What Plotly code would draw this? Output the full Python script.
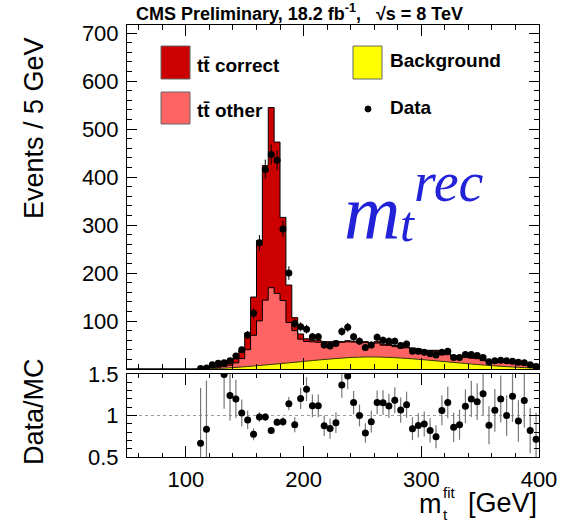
import numpy as np
import plotly.graph_objects as go

# ---------------------------------------------------------------- data
BIN_WIDTH = 5.0
X_MIN, X_MAX = 50.0, 400.0
FIRST_FILLED = 110.0          # lower edge of the first populated bin

# events per 5 GeV, bins 110-115 ... 395-400
data_counts = [1, 2, 9, 12, 13, 17, 27, 40, 71, 116,
               263, 416, 447, 435, 292, 200, 95, 88, 83, 67,
               67, 50, 48, 53, 78, 87, 67, 58, 45, 50,
               66, 60, 58, 58, 49, 52, 37, 37, 35, 32,
               29, 35, 37, 24, 24, 30, 30, 28, 24, 15,
               17, 18, 17, 16, 14, 13, 9, 5]

background = [0.0, 0.3, 0.7, 1.2, 1.8, 2.5, 3.3, 4.2, 5.2, 6.2,
              7.3, 8.4, 9.5, 10.6, 11.7, 12.8, 14.0, 15.2, 16.4, 17.6,
              18.7, 19.8, 20.8, 21.8, 22.7, 23.5, 24.2, 24.7, 25.0, 25.1,
              25.0, 24.7, 24.2, 23.6, 22.9, 22.1, 21.2, 20.2, 19.2, 18.1,
              17.0, 15.9, 14.8, 13.7, 12.6, 11.5, 10.4, 9.4, 8.4, 7.5,
              6.6, 5.7, 4.9, 4.2, 3.5, 2.9, 2.3, 1.8]

ttbar_other = [1.0, 1.3, 1.8, 2.4, 3.7, 5.5, 9.5, 17.5, 35, 64,
               93, 135, 160, 147, 131, 84, 66, 47, 41, 39,
               37, 35, 34, 34, 33, 33, 32, 31, 30, 27,
               29, 25, 25, 23, 21, 22, 20, 20, 18, 19,
               20, 15, 15, 12, 12, 13, 12, 12, 9, 8,
               8, 8, 10, 7, 10, 7, 7, 4]

ttbar_correct = [0.5, 0.8, 1.0, 1.9, 3.2, 5.7, 9.7, 17.1, 34.8, 79.8,
                 167.7, 280.6, 375.5, 315.4, 173.3, 78.2, 27.0, 10.8, 5.6, 3.4,
                 4.3, 2.2, 2.2, 2.2, 1.3, 2.5, 1.8, 2.3, 2.0, 1.9,
                 3.0, 2.3, 2.8, 2.4, 2.1, 1.9, 2.8, 1.8, 1.8, 1.9,
                 2.0, 2.1, 2.2, 2.3, 2.4, 2.5, 2.6, 2.6, 1.6, 1.5,
                 1.4, 1.3, 2.1, 1.8, 1.5, 1.1, 1.7, 1.2]

x_tick_values = [100, 200, 300, 400]
y_tick_values = [100, 200, 300, 400, 500, 600, 700]
ratio_tick_values = [0.5, 1.0, 1.5]
ratio_tick_text = ["0.5", "1", "1.5"]

# ---------------------------------------------------------------- geometry helpers
W, H = 564, 522


def px(x):
    return x / W


def py(y):
    return 1 - y / H


FONT = "Liberation Sans"
SERIF = "Liberation Serif"
C_CORRECT = "#cc0000"
C_OTHER = "#ff6464"
C_BKG = "#ffff00"

# ---------------------------------------------------------------- histograms
edges = np.arange(X_MIN, X_MAX + BIN_WIDTH / 2, BIN_WIDTH)
n_empty = int(round((FIRST_FILLED - X_MIN) / BIN_WIDTH))
pad = np.zeros(n_empty)

bkg_full = np.concatenate([pad, background])
other_full = np.concatenate([pad, ttbar_other])
correct_full = np.concatenate([pad, ttbar_correct])

stack_pink = bkg_full + other_full
stack_total = stack_pink + correct_full

centers = FIRST_FILLED + BIN_WIDTH / 2 + BIN_WIDTH * np.arange(len(data_counts))
counts = np.array(data_counts, dtype=float)
mc = np.array(background) + np.array(ttbar_other) + np.array(ttbar_correct)
ratio = counts / mc
ratio_err = np.sqrt(counts) / mc


def step_y(v):
    return np.append(v, v[-1])


fig = go.Figure()

fig.add_trace(go.Scatter(
    x=edges, y=step_y(stack_total), mode="lines", line_shape="hv",
    line=dict(color="black", width=1), fill="tozeroy", fillcolor=C_CORRECT,
    xaxis="x", yaxis="y", hoverinfo="skip"))
fig.add_trace(go.Scatter(
    x=edges, y=step_y(stack_pink), mode="lines", line_shape="hv",
    line=dict(color="black", width=1), fill="tozeroy", fillcolor=C_OTHER,
    xaxis="x", yaxis="y", hoverinfo="skip"))

bkg_x = np.concatenate([[FIRST_FILLED], centers, [X_MAX]])
bkg_y = np.concatenate([[0.0], background, [background[-1]]])
fig.add_trace(go.Scatter(
    x=bkg_x, y=bkg_y, mode="lines", line_shape="spline",
    line=dict(color="#333300", width=1), fill="tozeroy", fillcolor=C_BKG,
    xaxis="x", yaxis="y", hoverinfo="skip"))

fig.add_trace(go.Scatter(
    x=centers, y=counts, mode="markers",
    marker=dict(color="black", size=7),
    error_y=dict(type="data", array=np.sqrt(counts), color="black",
                 thickness=1, width=0),
    xaxis="x", yaxis="y"))

# ratio panel
fig.add_trace(go.Scatter(
    x=[X_MIN, X_MAX], y=[1, 1], mode="lines",
    line=dict(color="#999999", width=1, dash="dot"),
    xaxis="x2", yaxis="y2", hoverinfo="skip"))
fig.add_trace(go.Scatter(
    x=centers, y=ratio, mode="markers",
    marker=dict(color="black", size=7),
    error_y=dict(type="data", array=ratio_err, color="#777777",
                 thickness=1.2, width=0),
    xaxis="x2", yaxis="y2"))

# ---------------------------------------------------------------- axes
x_dom = [px(127), px(539)]
axis_common = dict(showline=True, linecolor="black", linewidth=1, mirror="ticks",
                   ticks="inside", tickcolor="black", showgrid=False, zeroline=False,
                   automargin=False,
                   tickfont=dict(family=FONT, size=22, color="black"))

fig.update_layout(
    width=W, height=H, margin=dict(l=0, r=0, t=0, b=0, autoexpand=False),
    paper_bgcolor="white", plot_bgcolor="white", showlegend=False,
    xaxis=dict(domain=x_dom, range=[X_MIN, X_MAX], anchor="y",
               tickvals=x_tick_values, showticklabels=False, ticklen=11,
               minor=dict(ticks="inside", ticklen=5, dtick=20, tick0=0,
                          tickcolor="black", showgrid=False),
               **axis_common),
    yaxis=dict(domain=[py(369), py(25)], range=[0, 717], anchor="x",
               tickvals=y_tick_values, ticklen=10, ticklabelstandoff=3,
               minor=dict(ticks="inside", ticklen=5, dtick=20, tick0=0,
                          tickcolor="black", showgrid=False),
               **axis_common),
    xaxis2=dict(domain=x_dom, range=[X_MIN, X_MAX], anchor="y2",
                tickvals=x_tick_values, ticklen=11, ticklabelstandoff=3,
                minor=dict(ticks="inside", ticklen=4, dtick=20, tick0=0,
                           tickcolor="black", showgrid=False),
                **axis_common),
    yaxis2=dict(domain=[py(457), py(374)], range=[0.5, 1.5], anchor="x2",
                tickvals=ratio_tick_values, ticktext=ratio_tick_text,
                ticklen=10, ticklabelstandoff=3,
                minor=dict(ticks="inside", ticklen=5, dtick=0.1, tick0=0,
                           tickcolor="black", showgrid=False),
                **axis_common),
)

# ---------------------------------------------------------------- text and legend
ann = []


def text(x, y, s, size, xanchor="left", yanchor="middle", family=FONT,
         color="black", angle=0):
    ann.append(dict(x=px(x), y=py(y), xref="paper", yref="paper", text=s,
                    showarrow=False, xanchor=xanchor, yanchor=yanchor,
                    textangle=angle,
                    font=dict(family=family, size=size, color=color)))


text(134, 13, "<b>CMS Preliminary, 18.2 fb<sup>-1</sup>,   √s = 8 TeV</b>", 18)
text(34, 128, "Events / 5 GeV", 27, xanchor="center", angle=-90)
text(34, 412, "Data/MC", 27, xanchor="center", angle=-90)

# x-axis title: m with stacked sub/superscript
text(417, 504, "m", 27, xanchor="left")
text(441, 492, "fit", 15, xanchor="left")
text(441, 514, "t", 15, xanchor="left")
text(539, 503, "[GeV]", 27, xanchor="right")

# legend
shapes = []


def box(x0, y0, x1, y1, fill, line="#666666"):
    shapes.append(dict(type="rect", xref="paper", yref="paper",
                       x0=px(x0), x1=px(x1), y0=py(y1), y1=py(y0),
                       fillcolor=fill, line=dict(color=line, width=1)))


box(161, 46, 190, 79, C_CORRECT)
box(161, 92, 190, 124, C_OTHER)
box(353, 46, 382, 79, C_BKG)
shapes.append(dict(type="circle", xref="paper", yref="paper",
                   x0=px(365), x1=px(371), y0=py(112), y1=py(106),
                   fillcolor="black", line=dict(color="black", width=1)))

text(195, 66, "<b>tt\u0304 correct</b>", 19)
text(195, 110, "<b>tt\u0304 other</b>", 19)
text(388, 61, "<b>Background</b>", 19)
text(388, 108, "<b>Data</b>", 19)

# m_t^rec label
BLUE = "#2222d8"
text(342, 212, "<i>m</i>", 78, family=SERIF, color=BLUE)
text(398, 224, "<i>t</i>", 50, family=SERIF, color=BLUE)
text(412, 182, "<i>rec</i>", 56, family=SERIF, color=BLUE)

fig.update_layout(annotations=ann, shapes=shapes)

fig.write_html("out.html")
